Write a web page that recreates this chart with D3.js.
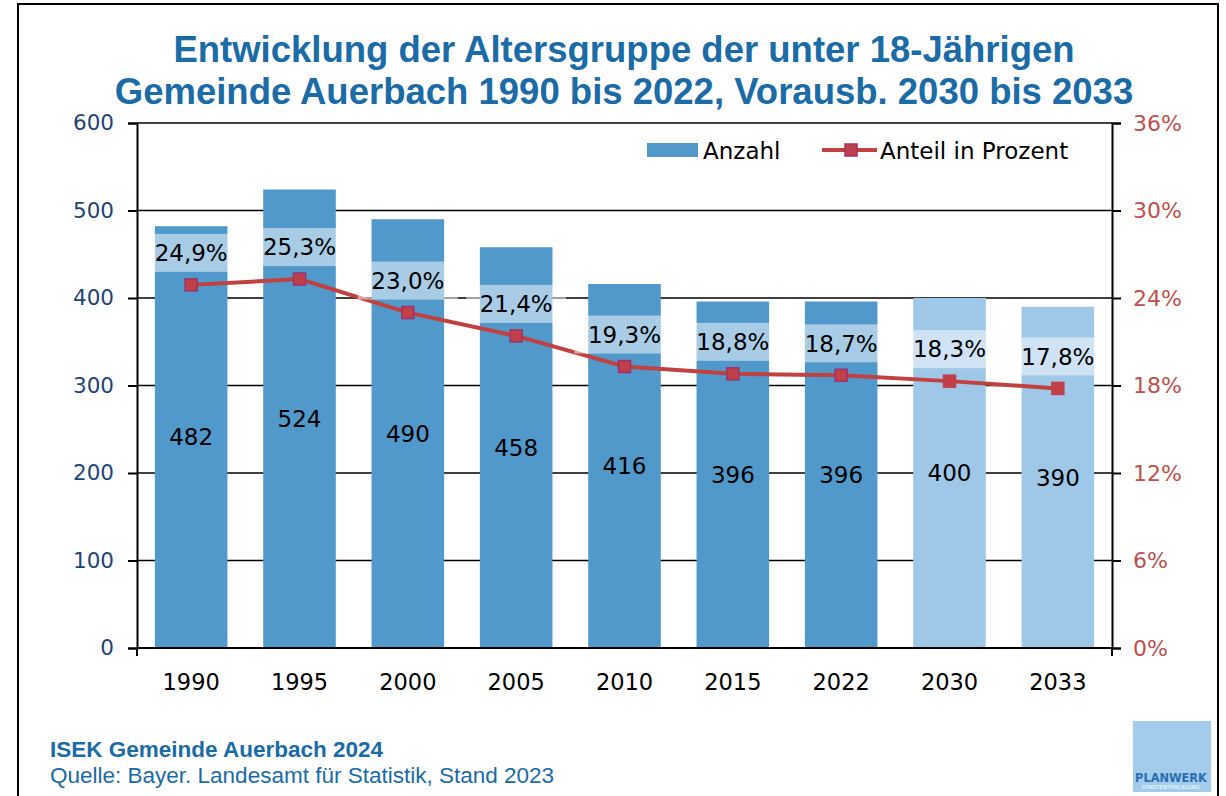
<!DOCTYPE html>
<html>
<head>
<meta charset="utf-8">
<script src="https://cdn.jsdelivr.net/npm/d3@7"></script>
<style>
  body { margin: 0; background: #fff; }
  svg { display: block; font-family: "DejaVu Sans", sans-serif; }
</style>
</head>
<body>
<div id="chart"></div>
<script>
// Data
const years = ["1990", "1995", "2000", "2005", "2010", "2015", "2022", "2030", "2033"];
const counts = [482, 524, 490, 458, 416, 396, 396, 400, 390];
const shares = [24.9, 25.3, 23.0, 21.4, 19.3, 18.8, 18.7, 18.3, 17.8];
const forecast = [false, false, false, false, false, false, false, true, true];
const leftTicks = [0, 100, 200, 300, 400, 500, 600];
const rightTicks = [0, 6, 12, 18, 24, 30, 36];

const width = 1226;
const height = 796;
const margin = { top: 123, right: 114, bottom: 148, left: 137 };

const svg = d3.select("#chart")
  .append("svg")
  .attr("width", width)
  .attr("height", height);

// outer frame
svg.append("path")
  .attr("d", `M18,${height} L18,4 L1218,4 L1218,${height}`)
  .attr("fill", "none")
  .attr("stroke", "#000")
  .attr("stroke-width", 2);

// Title
const titleColor = "#1a6ba6";
const titleLines = [
  "Entwicklung der Altersgruppe der unter 18-Jährigen",
  "Gemeinde Auerbach 1990 bis 2022, Vorausb. 2030 bis 2033"
];
svg.append("g")
  .selectAll("text")
  .data(titleLines)
  .join("text")
  .attr("x", 624)
  .attr("y", (d, i) => 62 + i * 42)
  .attr("text-anchor", "middle")
  .attr("font-family", "'Liberation Sans', Arial, sans-serif")
  .attr("font-weight", "bold")
  .attr("font-size", 36.5)
  .attr("fill", titleColor)
  .text(d => d);

// Scales
const x = d3.scaleBand()
  .domain(years)
  .range([margin.left, width - margin.right])
  .paddingInner(0.33)
  .paddingOuter(0.165);

const y = d3.scaleLinear()
  .domain([0, 600])
  .range([height - margin.bottom, margin.top]);

const y2 = d3.scaleLinear()
  .domain([0, 36])
  .range([height - margin.bottom, margin.top]);

const x0 = margin.left, x1 = width - margin.right;

// Gridlines
svg.append("g")
  .selectAll("line")
  .data(leftTicks)
  .join("line")
  .attr("x1", x0).attr("x2", x1)
  .attr("y1", d => y(d)).attr("y2", d => y(d))
  .attr("stroke", "#000")
  .attr("stroke-width", 1.5);

// Bars
svg.append("g")
  .selectAll("rect")
  .data(years)
  .join("rect")
  .attr("x", d => x(d))
  .attr("y", (d, i) => y(counts[i]))
  .attr("width", x.bandwidth())
  .attr("height", (d, i) => y(0) - y(counts[i]))
  .attr("fill", (d, i) => forecast[i] ? "#9fc7e8" : "#5198cb");

// Axes
const leftAxis = svg.append("g")
  .attr("transform", `translate(${x0},0)`)
  .call(d3.axisLeft(y).tickValues(leftTicks).tickSize(9).tickPadding(14));
const rightAxis = svg.append("g")
  .attr("transform", `translate(${x1},0)`)
  .call(d3.axisRight(y2).tickValues(rightTicks).tickSize(9).tickPadding(12)
    .tickFormat(d => d + "%"));
const bottomAxis = svg.append("g")
  .attr("transform", `translate(0,${y(0)})`)
  .call(d3.axisBottom(x).tickSize(0).tickPadding(26));

[leftAxis, rightAxis, bottomAxis].forEach(g => {
  g.select(".domain").attr("stroke", "#000").attr("stroke-width", 2);
  g.selectAll(".tick line").attr("stroke", "#000").attr("stroke-width", 2);
  g.selectAll(".tick text").attr("font-size", 22).attr("font-family", "'DejaVu Sans', sans-serif");
});
leftAxis.selectAll(".tick text").attr("fill", "#1f4476").attr("font-size", 21.5);
rightAxis.selectAll(".tick text").attr("fill", "#c0504d");
bottomAxis.selectAll(".tick text").attr("fill", "#000").attr("font-size", 22.5);
bottomAxis.select(".domain").attr("d", `M${x0},8V0H${x1}V8`);

// Value labels inside bars
svg.append("g")
  .selectAll("text")
  .data(years)
  .join("text")
  .attr("x", d => x(d) + x.bandwidth() / 2)
  .attr("y", (d, i) => (y(counts[i]) + y(0)) / 2)
  .attr("dy", "0.36em")
  .attr("text-anchor", "middle")
  .attr("font-size", 23)
  .attr("fill", "#000")
  .text((d, i) => counts[i]);

// Percent line
const line = d3.line()
  .x((d, i) => x(years[i]) + x.bandwidth() / 2)
  .y(d => y2(d));

svg.append("path")
  .datum(shares)
  .attr("d", line)
  .attr("fill", "none")
  .attr("stroke", "#c0413f")
  .attr("stroke-width", 4);

svg.append("g")
  .selectAll("rect")
  .data(shares)
  .join("rect")
  .attr("x", (d, i) => x(years[i]) + x.bandwidth() / 2 - 6)
  .attr("y", d => y2(d) - 6)
  .attr("width", 12).attr("height", 12)
  .attr("fill", "#c0404a")
  .attr("stroke", (d, i) => forecast[i] ? "#c0404a" : "#a0306a")
  .attr("stroke-width", 1.5);

// Percent labels with light box
const pctLabels = svg.append("g")
  .selectAll("g")
  .data(shares)
  .join("g")
  .attr("transform", (d, i) => `translate(${x(years[i]) + x.bandwidth() / 2},${y2(d) - 32})`);

pctLabels.append("rect")
  .attr("x", -50).attr("y", -19)
  .attr("width", 100).attr("height", 38)
  .attr("fill", "#fff")
  .attr("fill-opacity", 0.5);

pctLabels.append("text")
  .attr("text-anchor", "middle")
  .attr("dy", "0.36em")
  .attr("font-size", 23)
  .attr("fill", "#000")
  .text(d => d.toFixed(1).replace(".", ",") + "%");

// Legend
const legend = svg.append("g");
legend.append("rect")
  .attr("x", 647).attr("y", 143).attr("width", 51).attr("height", 14)
  .attr("fill", "#5198cb");
legend.append("text")
  .attr("x", 703).attr("y", 159)
  .attr("font-size", 23)
  .text("Anzahl");
legend.append("line")
  .attr("x1", 822).attr("x2", 877).attr("y1", 150).attr("y2", 150)
  .attr("stroke", "#c0413f").attr("stroke-width", 4);
legend.append("rect")
  .attr("x", 845).attr("y", 144).attr("width", 12).attr("height", 12)
  .attr("fill", "#c0404a").attr("stroke", "#a0306a").attr("stroke-width", 1.5);
legend.append("text")
  .attr("x", 880).attr("y", 159)
  .attr("font-size", 23)
  .text("Anteil in Prozent");

// Footer
svg.append("text")
  .attr("x", 50).attr("y", 757)
  .attr("font-family", "'Liberation Sans', Arial, sans-serif")
  .attr("font-weight", "bold")
  .attr("font-size", 22.5)
  .attr("fill", titleColor)
  .text("ISEK Gemeinde Auerbach 2024");
svg.append("text")
  .attr("x", 50).attr("y", 783)
  .attr("font-family", "'Liberation Sans', Arial, sans-serif")
  .attr("font-size", 22.5)
  .attr("fill", titleColor)
  .text("Quelle: Bayer. Landesamt für Statistik, Stand 2023");

// Logo
svg.append("rect")
  .attr("x", 1133).attr("y", 721).attr("width", 78).attr("height", 71)
  .attr("fill", "#a3cbec");
svg.append("text")
  .attr("x", 1171).attr("y", 782)
  .attr("text-anchor", "middle")
  .attr("font-weight", "bold")
  .attr("font-size", 11.4)
  .attr("fill", "#2a6fae")
  .text("PLANWERK");
svg.append("text")
  .attr("x", 1171).attr("y", 789)
  .attr("text-anchor", "middle")
  .attr("font-size", 5.5)
  .attr("fill", "#fff")
  .text("STADTENTWICKLUNG");
</script>
</body>
</html>
